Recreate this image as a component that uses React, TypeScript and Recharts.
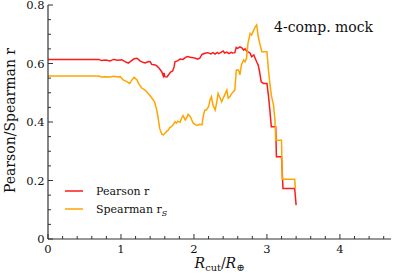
import React from 'react';
import { LineChart, Line, XAxis, YAxis } from 'recharts';

const pearsonX = [0, 0.70, 0.73, 0.79, 0.85, 0.90, 0.96, 1.01, 1.05, 1.10, 1.14, 1.18, 1.22, 1.26, 1.30, 1.33, 1.37, 1.40, 1.42, 1.47, 1.49, 1.52, 1.53, 1.56, 1.58, 1.59, 1.60, 1.63, 1.66, 1.68, 1.71, 1.73, 1.74, 1.78, 1.81, 1.85, 1.89, 1.92, 1.95, 1.99, 2.03, 2.05, 2.08, 2.11, 2.15, 2.19, 2.23, 2.26, 2.29, 2.32, 2.34, 2.37, 2.40, 2.42, 2.45, 2.48, 2.51, 2.53, 2.56, 2.58, 2.60, 2.63, 2.66, 2.68, 2.70, 2.73, 2.75, 2.77, 2.79, 2.82, 2.84, 2.86, 2.88, 2.90, 2.92, 2.95, 3.00, 3.02, 3.04, 3.06, 3.12, 3.13, 3.20, 3.22, 3.38, 3.40];
const pearsonY = [0.614, 0.614, 0.610, 0.612, 0.609, 0.614, 0.611, 0.613, 0.607, 0.601, 0.609, 0.616, 0.618, 0.609, 0.604, 0.602, 0.606, 0.607, 0.597, 0.595, 0.592, 0.585, 0.581, 0.571, 0.557, 0.568, 0.555, 0.554, 0.564, 0.571, 0.575, 0.591, 0.606, 0.610, 0.615, 0.614, 0.622, 0.624, 0.621, 0.620, 0.617, 0.615, 0.618, 0.631, 0.635, 0.637, 0.633, 0.637, 0.632, 0.638, 0.634, 0.638, 0.643, 0.636, 0.639, 0.634, 0.638, 0.636, 0.637, 0.655, 0.652, 0.657, 0.653, 0.646, 0.650, 0.640, 0.639, 0.635, 0.623, 0.629, 0.617, 0.605, 0.595, 0.571, 0.538, 0.532, 0.532, 0.492, 0.441, 0.384, 0.384, 0.281, 0.281, 0.173, 0.173, 0.116];

const spearmanX = [0, 0.70, 0.73, 0.79, 0.85, 0.90, 0.96, 0.99, 1.03, 1.08, 1.12, 1.15, 1.18, 1.22, 1.24, 1.28, 1.33, 1.37, 1.42, 1.46, 1.49, 1.51, 1.53, 1.56, 1.58, 1.60, 1.63, 1.65, 1.67, 1.69, 1.72, 1.74, 1.76, 1.78, 1.81, 1.83, 1.85, 1.88, 1.90, 1.92, 1.95, 1.97, 1.99, 2.04, 2.08, 2.11, 2.13, 2.15, 2.17, 2.20, 2.22, 2.24, 2.26, 2.29, 2.31, 2.33, 2.36, 2.38, 2.40, 2.42, 2.45, 2.47, 2.49, 2.52, 2.56, 2.58, 2.61, 2.63, 2.65, 2.68, 2.70, 2.72, 2.74, 2.77, 2.79, 2.81, 2.84, 2.86, 2.88, 2.90, 2.93, 3.00, 3.02, 3.04, 3.06, 3.09, 3.11, 3.12, 3.20, 3.21, 3.38, 3.39];
const spearmanY = [0.557, 0.557, 0.554, 0.555, 0.554, 0.556, 0.554, 0.555, 0.544, 0.538, 0.532, 0.544, 0.553, 0.544, 0.532, 0.517, 0.509, 0.498, 0.483, 0.469, 0.441, 0.413, 0.378, 0.358, 0.356, 0.361, 0.369, 0.373, 0.381, 0.384, 0.392, 0.401, 0.396, 0.403, 0.399, 0.413, 0.422, 0.407, 0.415, 0.426, 0.418, 0.407, 0.396, 0.388, 0.392, 0.390, 0.424, 0.441, 0.441, 0.452, 0.475, 0.486, 0.458, 0.441, 0.464, 0.498, 0.481, 0.469, 0.481, 0.492, 0.509, 0.481, 0.486, 0.498, 0.509, 0.578, 0.578, 0.561, 0.595, 0.612, 0.606, 0.618, 0.669, 0.703, 0.697, 0.709, 0.725, 0.732, 0.694, 0.670, 0.640, 0.640, 0.578, 0.532, 0.492, 0.458, 0.407, 0.338, 0.338, 0.204, 0.204, 0.173];

const xTicks = [0, 0.2, 0.4, 0.6, 0.8, 1, 1.2, 1.4, 1.6, 1.8, 2, 2.2, 2.4, 2.6, 2.8, 3, 3.2, 3.4, 3.6, 3.8, 4, 4.2, 4.4, 4.6];
const yTicks = [0, 0.05, 0.1, 0.15, 0.2, 0.25, 0.3, 0.35, 0.4, 0.45, 0.5, 0.55, 0.6, 0.65, 0.7, 0.75, 0.8];
const xMajor = [0, 1, 2, 3, 4];
const yMajor = [0, 0.2, 0.4, 0.6, 0.8];
const yMajorLabels = ['0', '0.2', '0.4', '0.6', '0.8'];

const pearsonData = pearsonX.map((x, i) => ({ x, y: pearsonY[i] }));
const spearmanData = spearmanX.map((x, i) => ({ x, y: spearmanY[i] }));

const AX = '#333333';
const FONT = "'DejaVu Serif', serif";
const RED = '#ff1a1a';
const ORANGE = '#ffa500';

const isMajorIn = (v: number, arr: number[]) => arr.findIndex((m) => Math.abs(m - v) < 1e-6);

const BottomTick = (props: any) => {
  const { x, y, payload } = props;
  const idx = isMajorIn(payload.value, xMajor);
  const len = idx >= 0 ? 5 : 3;
  return (
    <g>
      <line x1={x} x2={x} y1={y} y2={y - len} stroke={AX} strokeWidth={1} />
      {idx >= 0 && (
        <text x={x} y={y + 14.3} textAnchor="middle" fontFamily={FONT} fontSize={11.5} fill="#111">
          {String(xMajor[idx])}
        </text>
      )}
    </g>
  );
};

const TopTick = (props: any) => {
  const { x, y, payload } = props;
  const idx = isMajorIn(payload.value, xMajor);
  const len = idx >= 0 ? 5 : 3;
  return <line x1={x} x2={x} y1={y} y2={y + len} stroke={AX} strokeWidth={1} />;
};

const LeftTick = (props: any) => {
  const { x, y, payload } = props;
  const idx = isMajorIn(payload.value, yMajor);
  const len = idx >= 0 ? 5 : 3;
  return (
    <g>
      <line x1={x} x2={x + len} y1={y} y2={y} stroke={AX} strokeWidth={1} />
      {idx >= 0 && (
        <text x={x - 3.5} y={y + 4.2} textAnchor="end" fontFamily={FONT} fontSize={11.5} fill="#111">
          {yMajorLabels[idx]}
        </text>
      )}
    </g>
  );
};

const RightTick = (props: any) => {
  const { x, y, payload } = props;
  const idx = isMajorIn(payload.value, yMajor);
  const len = idx >= 0 ? 5 : 3;
  return <line x1={x} x2={x - len} y1={y} y2={y} stroke={AX} strokeWidth={1} />;
};

export default function App() {
  return (
    <div style={{ position: 'absolute', left: 0, top: 0, width: 399, height: 279, background: '#fff' }}>
      <LineChart width={399} height={279} margin={{ top: 5, right: 8, left: 0, bottom: 0 }}>
        <XAxis
          xAxisId={0}
          type="number"
          dataKey="x"
          domain={[0, 4.7]}
          allowDataOverflow
          ticks={xTicks}
          interval={0}
          tickSize={0}
          tickMargin={0}
          tickLine={false}
          tick={<BottomTick />}
          axisLine={{ stroke: AX, strokeWidth: 1.2 }}
          height={40}
        />
        <XAxis
          xAxisId="top"
          orientation="top"
          type="number"
          dataKey="x"
          domain={[0, 4.7]}
          allowDataOverflow
          ticks={xTicks}
          interval={0}
          tickSize={0}
          tickMargin={0}
          tickLine={false}
          tick={<TopTick />}
          axisLine={{ stroke: AX, strokeWidth: 1.2 }}
          height={0}
        />
        <YAxis
          yAxisId={0}
          type="number"
          domain={[0, 0.8]}
          allowDataOverflow
          ticks={yTicks}
          interval={0}
          tickSize={0}
          tickMargin={0}
          tickLine={false}
          tick={<LeftTick />}
          axisLine={{ stroke: AX, strokeWidth: 1.2 }}
          width={48}
        />
        <YAxis
          yAxisId="right"
          orientation="right"
          type="number"
          domain={[0, 0.8]}
          allowDataOverflow
          ticks={yTicks}
          interval={0}
          tickSize={0}
          tickMargin={0}
          tickLine={false}
          tick={<RightTick />}
          axisLine={{ stroke: AX, strokeWidth: 1.2 }}
          width={0}
        />
        <Line
          data={pearsonData}
          dataKey="y"
          type="linear"
          stroke={RED}
          strokeWidth={1.5}
          dot={false}
          activeDot={false}
          isAnimationActive={false}
        />
        <Line
          data={spearmanData}
          dataKey="y"
          type="linear"
          stroke={ORANGE}
          strokeWidth={1.5}
          dot={false}
          activeDot={false}
          isAnimationActive={false}
        />
        <text x={274} y={31.5} fontFamily={FONT} fontSize={14} fill="#111">4-comp. mock</text>
        <line x1={65} x2={83} y1={191} y2={191} stroke={RED} strokeWidth={1.5} />
        <line x1={65} x2={83} y1={209} y2={209} stroke={ORANGE} strokeWidth={1.5} />
        <text x={96} y={195} fontFamily={FONT} fontSize={11} fill="#111">Pearson r</text>
        <text x={96} y={213} fontFamily={FONT} fontSize={11} fill="#111">
          Spearman r<tspan fontStyle="italic" fontSize={8} dy={2.5}>S</tspan>
        </text>
        <text transform="translate(15,120.5) rotate(-90)" textAnchor="middle" fontFamily={FONT} fontSize={14} fill="#111">
          Pearson/Spearman r
        </text>
        <text x={219.5} y={268} textAnchor="middle" fontFamily={FONT} fontSize={14} fill="#111">
          <tspan fontStyle="italic">R</tspan>
          <tspan fontSize={9.8} dy={3}>cut</tspan>
          <tspan dy={-3}>/</tspan>
          <tspan fontStyle="italic">R</tspan>
          <tspan fontSize={9.8} dy={3}>⊕</tspan>
        </text>
      </LineChart>
    </div>
  );
}
